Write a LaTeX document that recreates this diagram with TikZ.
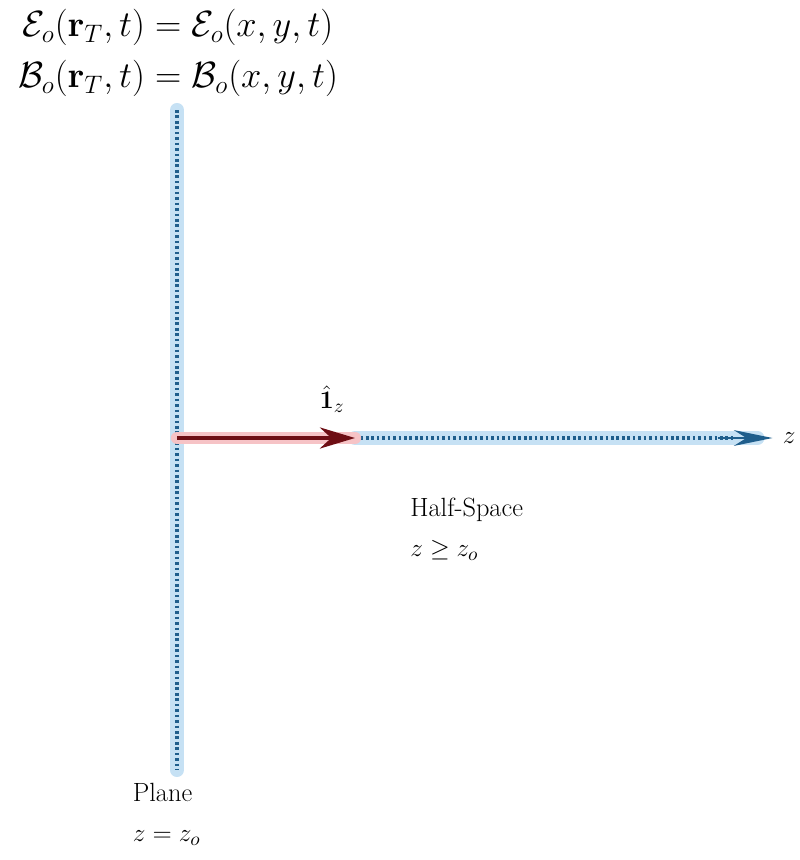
\documentclass[tikz,border=0pt]{standalone}
\usepackage{amsmath,amssymb}
\usepackage{xcolor}
\usepackage{tikz}
\usetikzlibrary{arrows.meta,positioning,calc}
\definecolor{axisblue}{HTML}{1F5E8C}
\definecolor{glowblue}{HTML}{C6E1F4}
\definecolor{vecred}{HTML}{6E0E14}
\definecolor{glowred}{HTML}{F6C3C6}
\tikzset{
  >=Stealth,
  glow/.style={line width=8pt,draw=glowblue,line cap=round},
  dotaxis/.style={draw=axisblue,line width=2pt,dash pattern=on 1.5pt off 1.6pt},
}

\begin{document}
\begin{tikzpicture}[
  lbl/.style={font=\fontsize{15}{18}\selectfont,align=left,inner sep=0pt},
  eq/.style={font=\fontsize{20}{24}\selectfont,inner sep=0pt},
]
  \useasboundingbox (0,0) rectangle (15.98,-17.2);
  % points
  \coordinate (top) at (3.54,-2.2);
  \coordinate (bot) at (3.54,-15.4);
  \coordinate (orig) at (3.54,-8.76);
  \coordinate (unit) at (7.1,-8.76);
  \coordinate (tip) at (15.45,-8.76);

  % plane z = z_o
  \draw[glow] (top) -- (bot);
  \draw[dotaxis] (top) -- (bot);

  % z axis
  \draw[glow] (unit) -- ($(tip)+(-0.3,0)$);
  \draw[dotaxis] (unit) -- ($(tip)+(-0.8,0)$);
  \draw[-{Stealth[length=22pt,width=9pt]},draw=axisblue,line width=1.2pt]
    ($(tip)+(-1.1,0)$) -- (tip);
  \node[lbl,anchor=west] (zlab) at ($(tip)+(0.2,0)$) {$z$};

  % unit vector
  \draw[line width=7pt,draw=glowred,line cap=round] (orig) -- (unit);
  \draw[-{Stealth[length=20pt,width=12pt]},draw=vecred,line width=2.2pt] (orig) -- (unit);
  \node[lbl,above left=0.5cm and 0.2cm of unit] (iz) {$\hat{\mathbf{1}}_z$};

  % labels
  \node[eq] (eqE) at (3.56,-0.55) {$\mathcal{E}_o(\mathbf{r}_T,t)=\mathcal{E}_o(x,y,t)$};
  \node[eq,below=0.28cm of eqE] (eqB) {$\mathcal{B}_o(\mathbf{r}_T,t)=\mathcal{B}_o(x,y,t)$};
  \node[lbl,anchor=north west] (half) at (8.2,-9.95) {Half-Space\\[5pt]$z\geq z_o$};
  \node[lbl,anchor=north west] (plane) at (2.65,-15.65) {Plane\\[5pt]$z=z_o$};
\end{tikzpicture}
\end{document}
